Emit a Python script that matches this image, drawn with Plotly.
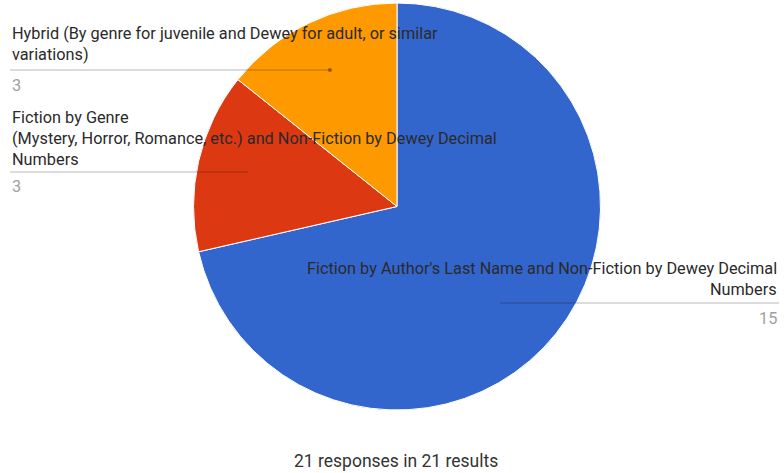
import plotly.graph_objects as go

labels = [
    "Fiction by Author's Last Name and Non-Fiction by Dewey Decimal Numbers",
    "Fiction by Genre (Mystery, Horror, Romance, etc.) and Non-Fiction by Dewey Decimal Numbers",
    "Hybrid (By genre for juvenile and Dewey for adult, or similar variations)",
]
values = [15, 3, 3]
colors = ["#3366CC", "#DC3912", "#FF9900"]
footer = "21 responses in 21 results"

W, H = 784, 473
cx, cy, r = 397, 206.5, 203.5

fig = go.Figure(go.Pie(
    labels=labels, values=values, sort=False, direction="clockwise", rotation=0,
    marker=dict(colors=colors, line=dict(color="white", width=1)),
    textinfo="none", hoverinfo="label+value", showlegend=False,
    domain=dict(x=[(cx - r) / W, (cx + r) / W], y=[(H - cy - r) / H, (H - cy + r) / H]),
))

FONT = "Roboto"
TXT = "#2a2a2a"
VAL = "#a0a0a0"
LINE = "rgba(0,0,0,0.28)"
FS = 16.3

ann = []
shapes = []

def text(x, y, s, anchor="left", color=TXT, size=FS):
    ann.append(dict(x=x / W, y=1 - y / H, xref="paper", yref="paper", text=s,
                    showarrow=False, xanchor=anchor, yanchor="middle",
                    font=dict(family=FONT, size=size, color=color)))

def hline(x0, x1, y):
    shapes.append(dict(type="line", xref="paper", yref="paper", x0=x0 / W, x1=x1 / W,
                       y0=1 - y / H, y1=1 - y / H, line=dict(color=LINE, width=1)))

# Hybrid
text(10, 33, "Hybrid (By genre for juvenile and Dewey for adult, or similar")
text(10, 55, "variations)")
hline(10, 330, 70)
shapes.append(dict(type="circle", xref="paper", yref="paper",
                   x0=328 / W, x1=332 / W, y0=1 - 72 / H, y1=1 - 68 / H,
                   fillcolor="rgba(0,0,0,0.4)", line=dict(width=0)))
text(10, 85, str(values[2]), color=VAL)

# Genre
text(10, 117, "Fiction by Genre")
text(10, 138, "(Mystery, Horror, Romance, etc.) and Non-Fiction by Dewey Decimal")
text(10, 159, "Numbers")
hline(10, 248, 172)
text(10, 186, str(values[1]), color=VAL)

# Author
text(779, 268, "Fiction by Author's Last Name and Non-Fiction by Dewey Decimal", anchor="right")
text(779, 289, "Numbers", anchor="right")
hline(500, 779, 303)
text(779, 318, str(values[0]), anchor="right", color=VAL)

# footer
text(396, 461, footer, anchor="center", color="#333333", size=17.5)

fig.update_layout(
    width=W, height=H, margin=dict(l=0, r=0, t=0, b=0),
    paper_bgcolor="white", plot_bgcolor="white",
    annotations=ann, shapes=shapes,
)
fig.write_html(
    "out.html",
    config={"displayModeBar": False},
    post_script="document.body.style.margin='0';document.body.style.overflow='hidden';",
)
